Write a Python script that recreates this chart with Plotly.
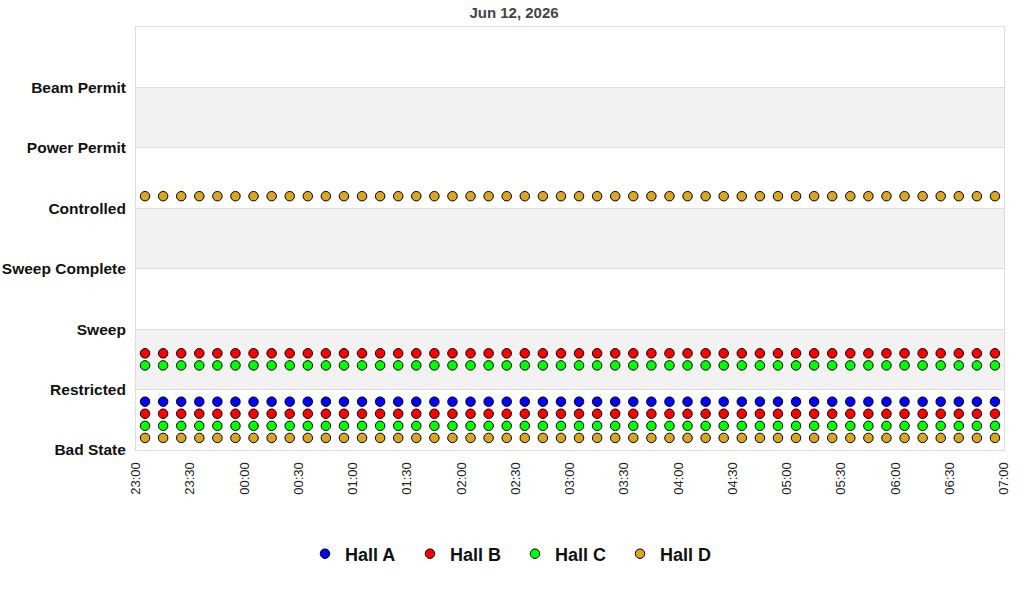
import pandas as pd
import plotly.graph_objects as go

# ---- data ----
state_labels = ["Bad State", "Restricted", "Sweep", "Sweep Complete",
                "Controlled", "Power Permit", "Beam Permit"]
halls = ["Hall A", "Hall B", "Hall C", "Hall D"]
hall_colors = ["#0000ff", "#ff0000", "#00ff00", "#daa520"]
hall_offsets = [0.8, 0.6, 0.4, 0.2]

times = pd.date_range("2026-06-11 23:05", "2026-06-12 06:55", freq="10min")
n = len(times)

# state index recorded for each hall (two recorded states per time step, where present)
hall_a_states = [[0] * n]
hall_b_states = [[0] * n, [1] * n]
hall_c_states = [[0] * n, [1] * n]
hall_d_states = [[0] * n, [4] * n]
hall_states = [hall_a_states, hall_b_states, hall_c_states, hall_d_states]

x_start = "2026-06-11 23:00"
x_end = "2026-06-12 07:00"
title_text = "Jun 12, 2026"

FONT = "Liberation Sans, Arial, sans-serif"

fig = go.Figure()
for name, color, off, series_list in zip(halls, hall_colors, hall_offsets, hall_states):
    xs, ys = [], []
    for series in series_list:
        xs.extend(list(times))
        ys.extend([v + off for v in series])
    fig.add_trace(go.Scatter(
        x=xs, y=ys, mode="markers", name=name,
        marker=dict(symbol="circle", size=9.5, color=color,
                    line=dict(color="black", width=1)),
    ))

shapes = []
for lo in [1, 3, 5]:
    shapes.append(dict(type="rect", xref="paper", yref="y", x0=0, x1=1,
                       y0=lo, y1=lo + 1, fillcolor="#f2f2f2",
                       line=dict(width=0), layer="below"))

W, H = 1024, 600
ML, MR, MT, MB = 136, 20, 27, 150
PW = W - ML - MR
PH = H - MT - MB

fig.update_layout(
    width=W, height=H, autosize=False,
    paper_bgcolor="white", plot_bgcolor="white",
    margin=dict(l=ML, r=MR, t=MT, b=MB, autoexpand=False),
    font=dict(family=FONT, color="#111"),
    title=dict(text=title_text, x=(514 - ML) / PW, xref="paper", xanchor="center",
               y=1 - 12.5 / H, yanchor="middle", yref="container",
               font=dict(size=15, color="#444", family=FONT, weight="bold")),
    shapes=shapes,
    showlegend=True,
    legend=dict(orientation="h", xref="paper", x=(515 - ML) / PW, xanchor="center",
                y=-(554 - (H - MB)) / PH, yanchor="middle",
                font=dict(size=18, family=FONT, color="#111", weight="bold"),
                itemwidth=30, entrywidth=60, entrywidthmode="pixels",
                bgcolor="rgba(0,0,0,0)"),
    xaxis=dict(type="date", range=[x_start, x_end],
               dtick=1800000, tick0=x_start, tickformat="%H:%M",
               tickangle=-90, showgrid=False, zeroline=False,
               showline=True, linecolor="#dddddd", linewidth=1, mirror=True,
               ticks="", automargin=False, ticklabelstandoff=6,
               tickfont=dict(size=13, color="#222", family=FONT)),
    yaxis=dict(range=[0, 7], tickvals=list(range(len(state_labels))),
               ticktext=state_labels, automargin=False, ticklabelstandoff=6,
               showgrid=True, gridcolor="#dddddd", gridwidth=1,
               zeroline=False, showline=True, linecolor="#dddddd",
               linewidth=1, mirror=True, ticks="",
               tickfont=dict(size=15.5, color="#111", family=FONT, weight="bold")),
)

# remove the default page margin so the 1024x600 figure fills the window exactly
fig.write_html("out.html",
               config={"displayModeBar": False},
               post_script="document.body.style.margin='0';document.body.style.overflow='hidden';")
